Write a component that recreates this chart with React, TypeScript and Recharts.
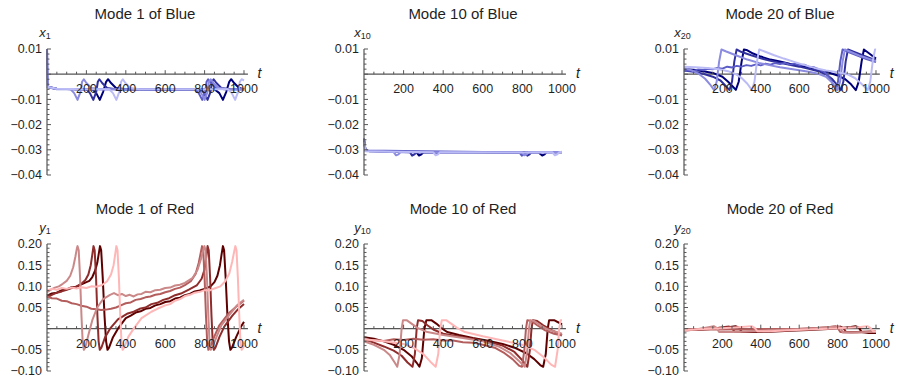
import React from 'react';
import { LineChart, Line, XAxis, YAxis, ReferenceLine } from 'recharts';

type Pt = [number, number];

const FONT = '"Liberation Sans", Arial, sans-serif';
const AXIS = '#555555';
const LABEL = '#1f1f1f';

// darkest -> lightest
const blueShades = ['#00007a', '#30309f', '#5c5cc6', '#8b8be0', '#bbbbf6'];
const redShades = ['#5e0000', '#8f2c2c', '#b45d5d', '#ca8888', '#ffb6b6'];

const xMajorTicks = [200, 400, 600, 800, 1000];
const yMajorBlue = [-0.04, -0.03, -0.02, -0.01, 0, 0.01];
const yMajorRed = [-0.1, -0.05, 0, 0.05, 0.1, 0.15, 0.2];

// ---- Mode 1 of Blue ----
const blueM1L1: Pt[] = [[0, -0.005], [50, -0.0058], [150, -0.006], [230, -0.006], [250, -0.0075], [268, -0.0102], [285, -0.007], [300, -0.003], [310, -0.002], [325, -0.0035], [350, -0.0055], [400, -0.006], [600, -0.006], [850, -0.006], [875, -0.0075], [893, -0.0102], [910, -0.007], [925, -0.003], [935, -0.002], [950, -0.0035], [975, -0.0055], [1000, -0.006]];
const blueM1L2: Pt[] = [[0, -0.005], [40, -0.0058], [150, -0.006], [200, -0.006], [218, -0.0075], [235, -0.0102], [250, -0.007], [258, -0.003], [266, -0.002], [280, -0.0035], [305, -0.0055], [350, -0.006], [600, -0.0062], [780, -0.006], [798, -0.0075], [815, -0.0102], [830, -0.007], [838, -0.003], [846, -0.002], [860, -0.0035], [885, -0.0055], [930, -0.006], [1000, -0.006]];
const blueM1L3: Pt[] = [[0, 0.01], [4, -0.005], [50, -0.0058], [200, -0.006], [400, -0.006], [600, -0.0062], [750, -0.006], [770, -0.0075], [788, -0.0102], [803, -0.007], [810, -0.003], [818, -0.002], [832, -0.0035], [857, -0.0055], [900, -0.006], [1000, -0.006]];
const blueM1L4: Pt[] = [[0, 0.01], [4, -0.0052], [50, -0.006], [120, -0.006], [138, -0.0075], [155, -0.0102], [170, -0.007], [178, -0.003], [187, -0.002], [200, -0.0035], [225, -0.0055], [270, -0.006], [500, -0.006], [765, -0.006], [783, -0.0075], [800, -0.0102], [815, -0.007], [822, -0.003], [831, -0.002], [845, -0.0035], [870, -0.0055], [920, -0.006], [1000, -0.006]];
const blueM1L5: Pt[] = [[0, -0.005], [50, -0.0058], [200, -0.006], [315, -0.006], [335, -0.0075], [352, -0.0102], [367, -0.007], [376, -0.003], [385, -0.002], [398, -0.0035], [423, -0.0055], [470, -0.006], [700, -0.006], [918, -0.006], [938, -0.0075], [955, -0.0102], [970, -0.007], [979, -0.003], [988, -0.002], [1000, -0.0025]];

// ---- Mode 10 of Blue ----
const blueM10L1: Pt[] = [[0, -0.026], [8, -0.0302], [30, -0.0306], [200, -0.0308], [265, -0.031], [278, -0.0323], [290, -0.0318], [300, -0.031], [500, -0.031], [700, -0.0311], [880, -0.031], [900, -0.0323], [912, -0.0318], [922, -0.031], [1000, -0.031]];
const blueM10L2: Pt[] = [[0, -0.027], [8, -0.0304], [200, -0.0309], [232, -0.031], [243, -0.0323], [255, -0.0318], [265, -0.031], [500, -0.0311], [812, -0.031], [825, -0.0323], [836, -0.0318], [846, -0.031], [1000, -0.0309]];
const blueM10L3: Pt[] = [[0, -0.0255], [8, -0.0303], [300, -0.0306], [600, -0.0309], [785, -0.031], [797, -0.0323], [808, -0.0318], [818, -0.031], [1000, -0.031]];
const blueM10L4: Pt[] = [[0, -0.026], [8, -0.0305], [150, -0.0309], [162, -0.0322], [174, -0.0318], [184, -0.031], [500, -0.031], [798, -0.031], [810, -0.0322], [822, -0.0318], [832, -0.031], [1000, -0.0309]];
const blueM10L5: Pt[] = [[0, -0.027], [8, -0.0306], [350, -0.031], [362, -0.0322], [374, -0.0318], [384, -0.031], [700, -0.0311], [952, -0.031], [964, -0.0322], [976, -0.0318], [986, -0.031], [1000, -0.0308]];

// ---- Mode 20 of Blue ----
const blueM20L1: Pt[] = [[0, 0.002], [50, 0.0018], [100, 0.0012], [150, 0.0005], [200, -0.001], [230, -0.003], [255, -0.005], [270, -0.0062], [285, -0.003], [300, 0.005], [312, 0.0098], [330, 0.0095], [360, 0.0082], [400, 0.007], [450, 0.0058], [500, 0.005], [550, 0.0042], [600, 0.0035], [650, 0.0027], [700, 0.0018], [750, 0.0008], [800, -0.0005], [840, -0.002], [870, -0.004], [895, -0.0063], [910, -0.003], [925, 0.005], [937, 0.0098], [960, 0.0085], [1000, 0.0062]];
const blueM20L2: Pt[] = [[0, 0.0015], [50, 0.001], [100, 0.0002], [150, -0.001], [190, -0.0025], [215, -0.0045], [237, -0.0063], [250, -0.003], [262, 0.005], [274, 0.0098], [300, 0.0088], [350, 0.0075], [400, 0.0063], [450, 0.0053], [500, 0.0045], [550, 0.0037], [600, 0.003], [650, 0.0022], [700, 0.0012], [740, 0.0], [770, -0.0018], [795, -0.004], [817, -0.0063], [830, -0.003], [842, 0.005], [854, 0.0098], [880, 0.009], [930, 0.0075], [1000, 0.0055]];
const blueM20L3: Pt[] = [[0, 0.0012], [25, 0.0016], [50, 0.0013], [75, 0.0019], [100, 0.0017], [125, 0.0022], [150, 0.002], [175, 0.0025], [200, 0.0022], [225, 0.003], [250, 0.0027], [275, 0.0033], [300, 0.003], [325, 0.0036], [350, 0.0033], [375, 0.0039], [400, 0.0035], [425, 0.0042], [450, 0.0038], [475, 0.0044], [500, 0.004], [525, 0.0045], [550, 0.0038], [575, 0.0042], [600, 0.0036], [625, 0.0038], [650, 0.003], [675, 0.0028], [700, 0.002], [730, 0.001], [750, -0.0005], [770, -0.003], [790, -0.0063], [802, -0.003], [814, 0.005], [826, 0.0098], [850, 0.009], [900, 0.0075], [950, 0.006], [1000, 0.0048]];
const blueM20L4: Pt[] = [[0, 0.0025], [40, 0.0015], [80, 0.0], [110, -0.0018], [135, -0.004], [157, -0.0063], [170, -0.003], [183, 0.005], [195, 0.0098], [220, 0.009], [270, 0.0075], [330, 0.0058], [390, 0.0045], [450, 0.0035], [500, 0.0028], [550, 0.0022], [600, 0.0016], [650, 0.001], [700, 0.0002], [740, -0.001], [770, -0.0032], [800, -0.0063], [813, -0.003], [826, 0.005], [838, 0.0098], [870, 0.0088], [920, 0.0072], [1000, 0.0052]];
const blueM20L5: Pt[] = [[0, 0.003], [60, 0.0028], [120, 0.0025], [180, 0.002], [230, 0.0012], [270, 0.0], [300, -0.0015], [330, -0.0038], [354, -0.0063], [367, -0.003], [380, 0.005], [392, 0.0098], [420, 0.009], [470, 0.0075], [520, 0.0062], [570, 0.005], [620, 0.0038], [680, 0.0025], [740, 0.0015], [800, 0.0008], [850, 0.0], [890, -0.0015], [920, -0.0035], [957, -0.0063], [970, -0.003], [983, 0.005], [995, 0.0098], [1000, 0.0097]];

// ---- Mode 1 of Red ----
const redM1L1: Pt[] = [[0, 0.078], [25, 0.083], [50, 0.085], [75, 0.091], [100, 0.093], [125, 0.098], [150, 0.099], [175, 0.105], [200, 0.11], [215, 0.113], [230, 0.122], [245, 0.138], [255, 0.155], [262, 0.175], [269, 0.195], [275, 0.185], [283, 0.12], [292, 0.03], [300, -0.03], [307, -0.05], [315, -0.045], [335, -0.02], [360, 0.0], [400, 0.025], [425, 0.031], [450, 0.038], [475, 0.041], [500, 0.047], [525, 0.049], [550, 0.055], [575, 0.058], [600, 0.063], [625, 0.065], [650, 0.071], [675, 0.073], [700, 0.079], [725, 0.082], [750, 0.088], [775, 0.09], [800, 0.094], [830, 0.1], [850, 0.11], [865, 0.125], [878, 0.15], [886, 0.175], [893, 0.195], [899, 0.185], [907, 0.12], [916, 0.03], [924, -0.03], [931, -0.05], [939, -0.045], [960, -0.02], [985, 0.005], [1000, 0.016]];
const redM1L2: Pt[] = [[0, 0.074], [25, 0.08], [50, 0.085], [75, 0.088], [100, 0.092], [125, 0.096], [150, 0.1], [175, 0.106], [195, 0.115], [210, 0.128], [222, 0.15], [230, 0.175], [236, 0.195], [242, 0.185], [249, 0.12], [256, 0.03], [262, -0.03], [268, -0.05], [276, -0.045], [295, -0.02], [320, 0.0], [360, 0.022], [410, 0.036], [440, 0.04], [470, 0.047], [500, 0.05], [530, 0.058], [560, 0.061], [590, 0.068], [620, 0.072], [650, 0.079], [680, 0.083], [720, 0.092], [760, 0.102], [785, 0.118], [800, 0.14], [809, 0.17], [815, 0.195], [821, 0.185], [828, 0.12], [835, 0.03], [841, -0.03], [847, -0.05], [855, -0.045], [875, -0.02], [900, 0.005], [940, 0.03], [970, 0.046], [1000, 0.058]];
const redM1L3: Pt[] = [[0, 0.076], [25, 0.072], [50, 0.071], [75, 0.066], [100, 0.065], [125, 0.06], [150, 0.058], [175, 0.054], [200, 0.052], [225, 0.047], [250, 0.046], [275, 0.044], [300, 0.045], [325, 0.047], [350, 0.05], [375, 0.055], [400, 0.06], [425, 0.062], [450, 0.068], [475, 0.07], [500, 0.074], [525, 0.076], [550, 0.08], [575, 0.082], [600, 0.086], [625, 0.089], [650, 0.094], [675, 0.097], [700, 0.103], [730, 0.112], [755, 0.13], [770, 0.155], [780, 0.178], [787, 0.195], [793, 0.185], [800, 0.12], [807, 0.03], [813, -0.03], [819, -0.05], [827, -0.045], [848, -0.02], [875, 0.008], [920, 0.035], [960, 0.052], [1000, 0.066]];
const redM1L4: Pt[] = [[0, 0.086], [20, 0.092], [40, 0.097], [60, 0.1], [80, 0.106], [100, 0.113], [118, 0.125], [133, 0.145], [144, 0.17], [151, 0.188], [155, 0.195], [161, 0.185], [168, 0.12], [175, 0.03], [181, -0.03], [187, -0.05], [194, -0.045], [210, -0.015], [230, 0.02], [255, 0.05], [285, 0.07], [320, 0.08], [340, 0.084], [360, 0.079], [380, 0.082], [400, 0.077], [420, 0.08], [440, 0.076], [460, 0.081], [480, 0.082], [500, 0.087], [525, 0.086], [550, 0.091], [575, 0.092], [600, 0.096], [625, 0.097], [650, 0.102], [675, 0.104], [700, 0.108], [740, 0.12], [765, 0.14], [782, 0.165], [793, 0.185], [799, 0.195], [805, 0.185], [812, 0.12], [819, 0.03], [825, -0.03], [831, -0.05], [839, -0.045], [860, -0.02], [885, 0.008], [930, 0.035], [965, 0.055], [1000, 0.068]];
const redM1L5: Pt[] = [[0, 0.09], [25, 0.094], [50, 0.092], [75, 0.096], [100, 0.094], [125, 0.097], [150, 0.095], [175, 0.098], [200, 0.096], [225, 0.1], [250, 0.099], [280, 0.103], [305, 0.112], [325, 0.128], [338, 0.15], [346, 0.175], [352, 0.195], [358, 0.185], [365, 0.12], [372, 0.03], [378, -0.03], [384, -0.05], [392, -0.045], [412, -0.02], [440, 0.0], [480, 0.025], [530, 0.04], [560, 0.047], [600, 0.055], [625, 0.058], [650, 0.066], [675, 0.07], [700, 0.077], [725, 0.08], [750, 0.085], [775, 0.087], [800, 0.091], [825, 0.09], [850, 0.095], [880, 0.1], [905, 0.112], [925, 0.13], [940, 0.158], [950, 0.182], [956, 0.195], [962, 0.185], [969, 0.12], [976, 0.03], [982, -0.03], [988, -0.05], [996, -0.045], [1000, -0.04]];

// ---- Mode 10 of Red ----
const redM10L1: Pt[] = [[0, -0.02], [50, -0.024], [100, -0.03], [150, -0.038], [200, -0.05], [240, -0.065], [265, -0.08], [280, -0.09], [292, -0.07], [305, 0.0], [315, 0.02], [340, 0.02], [365, 0.012], [390, 0.002], [420, -0.008], [480, -0.015], [550, -0.022], [620, -0.028], [700, -0.036], [760, -0.045], [820, -0.058], [860, -0.072], [890, -0.086], [905, -0.09], [918, -0.06], [928, 0.0], [935, 0.02], [960, 0.02], [985, 0.014], [1000, 0.01]];
const redM10L2: Pt[] = [[0, -0.025], [50, -0.033], [100, -0.042], [150, -0.052], [190, -0.064], [220, -0.08], [245, -0.09], [257, -0.06], [266, 0.0], [273, 0.02], [295, 0.018], [320, 0.008], [350, -0.002], [400, -0.012], [500, -0.02], [600, -0.028], [700, -0.04], [760, -0.055], [800, -0.075], [825, -0.09], [838, -0.05], [846, 0.0], [853, 0.02], [875, 0.018], [905, 0.008], [950, -0.004], [1000, -0.015]];
const redM10L3: Pt[] = [[0, -0.03], [50, -0.027], [100, -0.029], [150, -0.025], [200, -0.027], [250, -0.024], [300, -0.026], [350, -0.025], [400, -0.028], [450, -0.028], [500, -0.032], [550, -0.033], [600, -0.038], [660, -0.045], [710, -0.058], [750, -0.072], [785, -0.088], [798, -0.09], [810, -0.05], [818, 0.0], [825, 0.02], [845, 0.018], [875, 0.008], [915, -0.004], [960, -0.012], [1000, -0.016]];
const redM10L4: Pt[] = [[0, -0.03], [50, -0.038], [100, -0.05], [130, -0.062], [155, -0.08], [168, -0.09], [180, -0.06], [190, 0.0], [197, 0.02], [215, 0.02], [240, 0.012], [270, 0.002], [320, -0.008], [400, -0.015], [500, -0.022], [600, -0.03], [680, -0.042], [740, -0.058], [780, -0.075], [812, -0.09], [825, -0.05], [833, 0.0], [840, 0.02], [860, 0.018], [890, 0.008], [930, -0.002], [1000, -0.012]];
const redM10L5: Pt[] = [[0, -0.025], [100, -0.03], [200, -0.036], [250, -0.045], [300, -0.06], [335, -0.078], [362, -0.09], [375, -0.06], [385, 0.0], [393, 0.02], [415, 0.02], [440, 0.012], [470, 0.002], [510, -0.008], [600, -0.018], [700, -0.028], [800, -0.038], [860, -0.05], [910, -0.068], [945, -0.085], [965, -0.09], [978, -0.05], [986, 0.0], [993, 0.02], [1000, 0.02]];

// ---- Mode 20 of Red ----
const redM20L1: Pt[] = [[0, -0.004], [100, -0.002], [200, 0.001], [240, 0.004], [268, 0.006], [285, 0.003], [300, -0.007], [350, -0.008], [450, -0.007], [550, -0.005], [650, -0.003], [750, -0.001], [830, 0.002], [870, 0.004], [893, 0.006], [910, 0.003], [925, -0.008], [960, -0.01], [1000, -0.01]];
const redM20L2: Pt[] = [[0, -0.003], [100, -0.001], [180, 0.002], [235, 0.005], [250, 0.002], [262, -0.007], [320, -0.007], [450, -0.005], [600, -0.002], [720, 0.0], [790, 0.003], [815, 0.005], [830, 0.002], [842, -0.007], [900, -0.008], [1000, -0.006]];
const redM20L3: Pt[] = [[0, -0.002], [200, -0.002], [400, -0.001], [600, 0.0], [700, 0.002], [760, 0.004], [788, 0.006], [800, 0.002], [814, -0.008], [870, -0.009], [950, -0.008], [1000, -0.007]];
const redM20L4: Pt[] = [[0, -0.005], [60, -0.002], [120, 0.003], [155, 0.006], [170, 0.002], [183, -0.008], [250, -0.008], [350, -0.006], [450, -0.004], [550, -0.002], [650, 0.0], [740, 0.003], [800, 0.006], [815, 0.002], [828, -0.009], [900, -0.009], [1000, -0.007]];
const redM20L5: Pt[] = [[0, -0.003], [100, -0.001], [200, 0.001], [300, 0.004], [352, 0.006], [368, 0.002], [382, -0.006], [450, -0.006], [550, -0.004], [650, -0.002], [750, 0.0], [850, 0.002], [920, 0.004], [955, 0.006], [970, 0.002], [985, -0.006], [1000, -0.006]];

// ---- layout ----
const X_MAX = 1020;
const Y_W = 46;
const T_PAD = 8;
const R_PAD = 14;
const X_H = 1;
const B_PAD = 10;

const COLS = [
  { axisX: 46.5, pxPerT: 0.197 },
  { axisX: 364, pxPerT: 0.198 },
  { axisX: 684, pxPerT: 0.192 },
];

const ROWS = [
  { plotTop: 49, plotH: 126, domain: [-0.04, 0.01], majors: yMajorBlue, minorStep: 0.002, titleY: 18.5, symY: 36.5 },
  { plotTop: 244, plotH: 127, domain: [-0.1, 0.2], majors: yMajorRed, minorStep: 0.01, titleY: 214, symY: 231.5 },
];

const panels = [
  { row: 0, col: 0, title: 'Mode 1 of Blue', sym: 'x', sub: '1', shades: blueShades, lines: [blueM1L1, blueM1L2, blueM1L3, blueM1L4, blueM1L5] },
  { row: 0, col: 1, title: 'Mode 10 of Blue', sym: 'x', sub: '10', shades: blueShades, lines: [blueM10L1, blueM10L2, blueM10L3, blueM10L4, blueM10L5] },
  { row: 0, col: 2, title: 'Mode 20 of Blue', sym: 'x', sub: '20', shades: blueShades, lines: [blueM20L1, blueM20L2, blueM20L3, blueM20L4, blueM20L5] },
  { row: 1, col: 0, title: 'Mode 1 of Red', sym: 'y', sub: '1', shades: redShades, lines: [redM1L1, redM1L2, redM1L3, redM1L4, redM1L5] },
  { row: 1, col: 1, title: 'Mode 10 of Red', sym: 'y', sub: '10', shades: redShades, lines: [redM10L1, redM10L2, redM10L3, redM10L4, redM10L5] },
  { row: 1, col: 2, title: 'Mode 20 of Red', sym: 'y', sub: '20', shades: redShades, lines: [redM20L1, redM20L2, redM20L3, redM20L4, redM20L5] },
];

const stepTicks = (lo: number, hi: number, step: number): number[] => {
  const out: number[] = [];
  const n = Math.round((hi - lo) / step);
  for (let i = 0; i <= n; i++) out.push(Number((lo + i * step).toFixed(6)));
  return out;
};

const xTicks = stepTicks(50, 1000, 50);

const fmtY = (v: number) => v.toFixed(2).replace('-', '\u2212');

// x ticks sit on the zero line, so lift them up from the plot bottom
const makeXTick = (lift: number) => (props: any) => {
  const { x, y, payload } = props;
  const v = payload.value;
  const major = xMajorTicks.includes(v);
  const y0 = y - lift;
  return (
    <g>
      <line x1={x} x2={x} y1={y0} y2={y0 - (major ? 4 : 2.5)} stroke={AXIS} strokeWidth={1} />
      {major && (
        <text x={x} y={y0 + 19} textAnchor="middle" fontSize={12.5} fontFamily={FONT} fill={LABEL}>
          {v}
        </text>
      )}
    </g>
  );
};

const makeYTick = (majors: number[]) => (props: any) => {
  const { x, y, payload } = props;
  const v = payload.value;
  const major = majors.some((m) => Math.abs(m - v) < 1e-9);
  return (
    <g>
      <line x1={x} x2={x + (major ? 4 : 2.5)} y1={y} y2={y} stroke={AXIS} strokeWidth={1} />
      {major && Math.abs(v) > 1e-9 && (
        <text x={x - 5} y={y + 4.5} textAnchor="end" fontSize={12.5} fontFamily={FONT} fill={LABEL}>
          {fmtY(v)}
        </text>
      )}
    </g>
  );
};

const toRows = (pts: Pt[]) => pts.map(([t, v]) => ({ t, v }));

const Panel = ({ p }: { p: (typeof panels)[number] }) => {
  const col = COLS[p.col];
  const row = ROWS[p.row];
  const plotW = X_MAX * col.pxPerT;
  const width = Y_W + plotW + R_PAD;
  const height = T_PAD + row.plotH + X_H + B_PAD;
  const [lo, hi] = row.domain;
  const lift = (row.plotH * (0 - lo)) / (hi - lo);
  const yTicks = stepTicks(lo, hi, row.minorStep);

  return (
    <div style={{ position: 'absolute', left: col.axisX - Y_W, top: row.plotTop - T_PAD }}>
      <LineChart width={width} height={height} margin={{ top: T_PAD, right: R_PAD, bottom: B_PAD, left: 0 }}>
        <XAxis
          type="number"
          dataKey="t"
          domain={[0, X_MAX]}
          ticks={xTicks}
          interval={0}
          axisLine={false}
          tickLine={false}
          tickSize={0}
          tickMargin={0}
          height={X_H}
          tick={makeXTick(lift)}
        />
        <YAxis
          type="number"
          domain={row.domain}
          ticks={yTicks}
          interval={0}
          width={Y_W}
          axisLine={{ stroke: AXIS, strokeWidth: 1.2 }}
          tickLine={false}
          tickSize={0}
          tickMargin={0}
          tick={makeYTick(row.majors)}
        />
        <ReferenceLine y={0} stroke={AXIS} strokeWidth={1.2} />
        {p.lines.map((pts, i) => (
          <Line
            key={i}
            data={toRows(pts)}
            dataKey="v"
            type="linear"
            stroke={p.shades[i]}
            strokeWidth={2}
            strokeLinejoin="round"
            dot={false}
            activeDot={false}
            isAnimationActive={false}
          />
        ))}
      </LineChart>
    </div>
  );
};

export default function App() {
  return (
    <div style={{ position: 'absolute', left: 0, top: 0, width: 897, height: 381, background: '#fff', overflow: 'hidden' }}>
      {panels.map((p, i) => (
        <Panel key={i} p={p} />
      ))}
      <svg width={897} height={381} style={{ position: 'absolute', left: 0, top: 0, pointerEvents: 'none' }}>
        {panels.map((p, i) => {
          const col = COLS[p.col];
          const row = ROWS[p.row];
          const [lo, hi] = row.domain;
          const zeroY = row.plotTop + (row.plotH * hi) / (hi - lo);
          const axisEnd = col.axisX + X_MAX * col.pxPerT;
          return (
            <g key={i} fontFamily={FONT} fill={LABEL}>
              <text x={col.axisX + 500 * col.pxPerT} y={row.titleY} textAnchor="middle" fontSize={15}>
                {p.title}
              </text>
              <text x={col.axisX - 1.5} y={row.symY} textAnchor="middle" fontSize={13}>
                <tspan fontStyle="italic">{p.sym}</tspan>
                <tspan fontSize={9} dy={2.5}>{p.sub}</tspan>
              </text>
              <text x={axisEnd + 10} y={zeroY + 4} fontSize={14} fontStyle="italic">
                t
              </text>
            </g>
          );
        })}
      </svg>
    </div>
  );
}
